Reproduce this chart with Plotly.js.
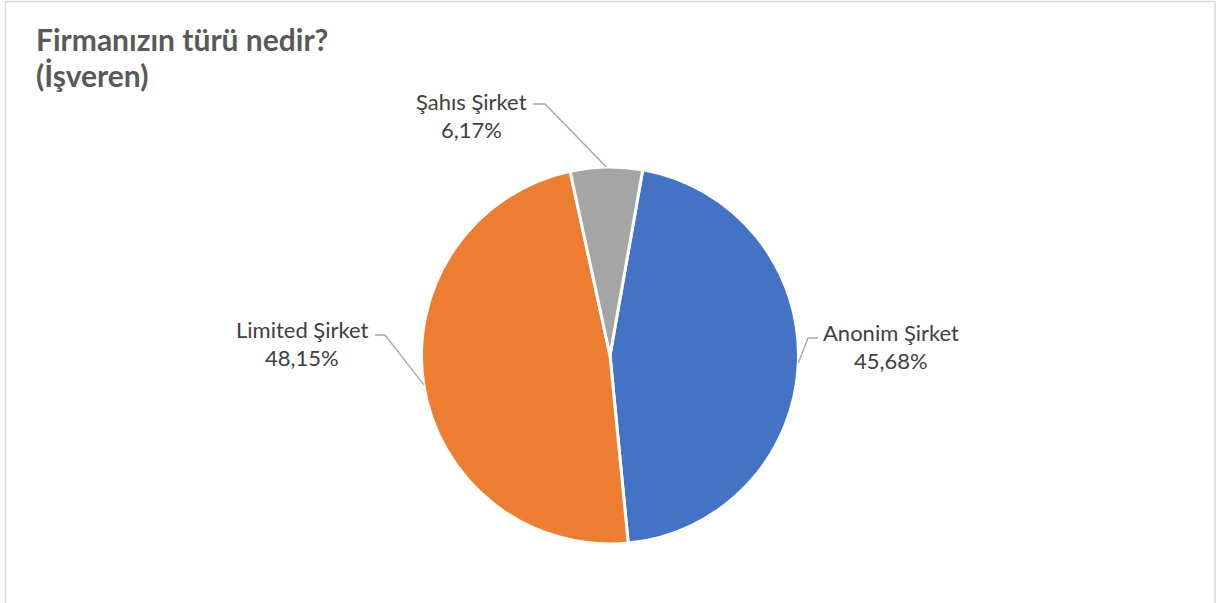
<!DOCTYPE html>
<html>
<head>
<meta charset="utf-8">
<script src="https://cdn.plot.ly/plotly-3.0.1.min.js"></script>
<style>html,body{margin:0;padding:0;background:#fff;}#chart{width:1217px;height:603px;}</style>
</head>
<body>
<div id="chart"></div>
<script>
// ---- data ----
const categories = ['Anonim Şirket', 'Limited Şirket', 'Şahıs Şirket'];
const counts = [37, 39, 5];
const sliceColors = ['#4472C4', '#ED7D31', '#A5A5A5'];
const titleLines = ['Firmanızın türü nedir?', '(İşveren)'];

// ---- layout constants (pixels) ----
const W = 1217, H = 603;
const CX = 610, CY = 355.5, R = 188.5;
const startAngle = 10; // degrees clockwise from 12 o'clock
const labelPos = [[891, 332], [302, 329], [471, 101]];
const lineGap = 28.5;
const leaderStart = [[818, 338], [375, 335], [533, 104]];
const elbowLen = [-10, 10, 12];
const titleY = [39, 75];
const FONT = 'Lato, Carlito, sans-serif';

const px = x => x / W;
const py = y => 1 - y / H;

const total = counts.reduce((a, b) => a + b, 0);
const annotations = [];
const shapes = [];

titleLines.forEach((t, i) => {
  annotations.push({xref: 'paper', yref: 'paper', x: px(34), y: py(titleY[i]),
    text: '<b>' + t + '</b>', showarrow: false, xanchor: 'left', yanchor: 'middle',
    font: {family: FONT, size: 30, color: '#595959'}});
});

// outer chart border
shapes.push({type: 'rect', xref: 'paper', yref: 'paper',
  x0: px(5.5), x1: px(1215), y0: py(610), y1: py(1.5),
  line: {color: '#D9D9D9', width: 1.5}, fillcolor: 'rgba(0,0,0,0)'});

let acc = 0;
counts.forEach((v, i) => {
  const mid = (startAngle + 360 * (acc + v / 2) / total) * Math.PI / 180;
  acc += v;
  const ex = CX + R * Math.sin(mid), ey = CY - R * Math.cos(mid);
  const pct = (v / total * 100).toFixed(2).replace('.', ',') + '%';
  annotations.push({xref: 'paper', yref: 'paper', x: px(labelPos[i][0]), y: py(labelPos[i][1]),
    text: categories[i], showarrow: false, xanchor: 'center', yanchor: 'middle',
    font: {family: FONT, size: 22, color: '#404040'}});
  annotations.push({xref: 'paper', yref: 'paper', x: px(labelPos[i][0]), y: py(labelPos[i][1] + lineGap),
    text: pct, showarrow: false, xanchor: 'center', yanchor: 'middle',
    font: {family: FONT, size: 22, color: '#404040'}});
  const [sx, sy] = leaderStart[i];
  const bx = sx + elbowLen[i];
  shapes.push({type: 'path', xref: 'paper', yref: 'paper',
    path: `M ${px(sx)} ${py(sy)} L ${px(bx)} ${py(sy)} L ${px(ex)} ${py(ey)}`,
    line: {color: '#A6A6A6', width: 1.3}});
});

const trace = {
  type: 'pie',
  labels: categories,
  values: counts,
  sort: false,
  direction: 'clockwise',
  rotation: startAngle,
  textinfo: 'none',
  hoverinfo: 'label+percent',
  marker: {colors: sliceColors, line: {color: '#FFFFFF', width: 3}},
  domain: {x: [px(CX - R), px(CX + R)], y: [py(CY + R), py(CY - R)]},
  showlegend: false
};

const layout = {
  width: W, height: H,
  margin: {l: 0, r: 0, t: 0, b: 0},
  paper_bgcolor: '#FFFFFF',
  separators: ',.',
  annotations: annotations,
  shapes: shapes,
  showlegend: false
};

Plotly.newPlot('chart', [trace], layout, {displayModeBar: false, staticPlot: true});
</script>
</body>
</html>
